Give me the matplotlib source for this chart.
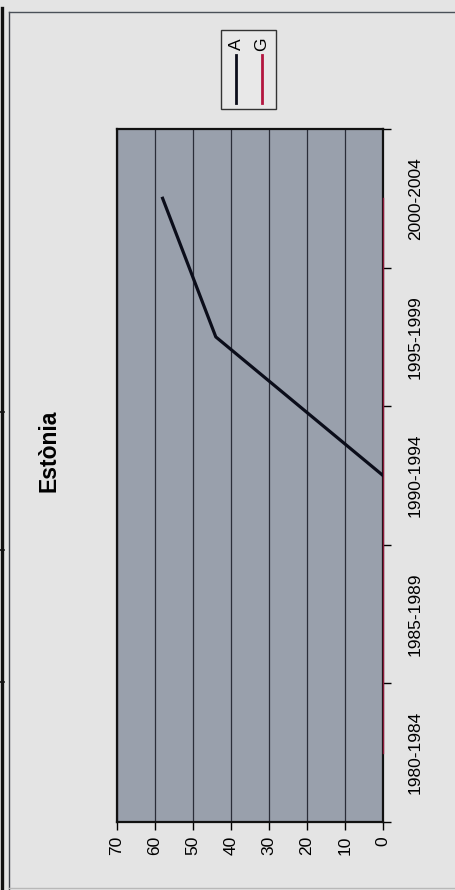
import numpy as np
import matplotlib
matplotlib.use('Agg')
import matplotlib.pyplot as plt
from matplotlib.lines import Line2D
from matplotlib.patches import Rectangle

plt.rcParams['font.family'] = ['Liberation Sans', 'DejaVu Sans']

# Dades
categories = ['1980-1984', '1985-1989', '1990-1994', '1995-1999', '2000-2004']
serie_a = [np.nan, np.nan, 0, 44, 58]
serie_g = [0, 0, 0, 0, 0]
valors = [0, 10, 20, 30, 40, 50, 60, 70]
titol = 'Estònia'

W, H = 455, 890
fig = plt.figure(figsize=(W / 100, H / 100), dpi=100, facecolor='#e4e4e4')

# gràfic girat 90 graus: categories en vertical, valors en horitzontal
ax = fig.add_axes([117 / W, 1 - 822 / H, 266 / W, 693 / H])
ax.set_facecolor('#99a0ac')
pos = np.arange(len(categories))

ax.plot(serie_g, pos, color='#8c1a3a', lw=1.0, zorder=4, clip_on=False)
ax.plot(serie_a, pos, color='#0b0d1a', lw=2.3, zorder=5)

ax.set_xlim(70, 0)
ax.set_ylim(-0.5, len(categories) - 0.5)

ax.set_xticks(valors)
ax.set_xticklabels([str(v) for v in valors], rotation=90, fontsize=12.5)
ax.tick_params(axis='x', direction='out', length=6, width=1, pad=4, colors='black')
ax.grid(axis='x', color='#2a2d38', lw=0.9)
ax.set_axisbelow(True)

ax.yaxis.tick_right()
ax.set_yticks(np.arange(-0.5, len(categories), 1.0))
ax.set_yticklabels([])
ax.set_yticks(pos, minor=True)
ax.set_yticklabels(categories, minor=True, rotation=90, fontsize=12.5, va='center')
ax.tick_params(axis='y', which='major', direction='out', length=6, width=1)
ax.tick_params(axis='y', which='minor', length=0, pad=18)

for s in ax.spines.values():
    s.set_color('#111111')
    s.set_linewidth(1.6)

# títol
fig.text(49 / W, 1 - 451 / H, titol, rotation=90, fontsize=16.5,
         fontweight='bold', ha='center', va='center')

# llegenda
fig.add_artist(Rectangle((221 / W, 1 - 109 / H), 55 / W, 79 / H,
                         transform=fig.transFigure, facecolor='#e8e8e8',
                         edgecolor='#333333', lw=1))
for x, c, lab in [(236, '#0b0d1a', 'A'), (262, '#b3163f', 'G')]:
    fig.add_artist(Line2D([x / W, x / W], [1 - 55 / H, 1 - 103 / H],
                          transform=fig.transFigure, color=c, lw=2))
    fig.text(x / W, 1 - 44 / H, lab, rotation=90, fontsize=12.5,
             ha='center', va='center')

# marc de la pàgina
fig.add_artist(Line2D([1.5 / W, 1.5 / W], [0, 1 - 8 / H],
                      transform=fig.transFigure, color='#111111', lw=2.4))
fig.add_artist(Line2D([8.5 / W, 8.5 / W], [0, 1 - 12 / H],
                      transform=fig.transFigure, color='#3c4048', lw=1))
fig.add_artist(Line2D([8.5 / W, 1], [1 - 12 / H, 1 - 12 / H],
                      transform=fig.transFigure, color='#4a5058', lw=1))
fig.add_artist(Line2D([8.5 / W, 1], [1 - 888 / H, 1 - 888 / H],
                      transform=fig.transFigure, color='#b8b8b8', lw=1))
for y in [412, 550, 682]:
    fig.add_artist(Line2D([0, 4 / W], [1 - y / H, 1 - y / H],
                          transform=fig.transFigure, color='#111111', lw=1.2))

fig.savefig('out.png', dpi=100, facecolor=fig.get_facecolor())
